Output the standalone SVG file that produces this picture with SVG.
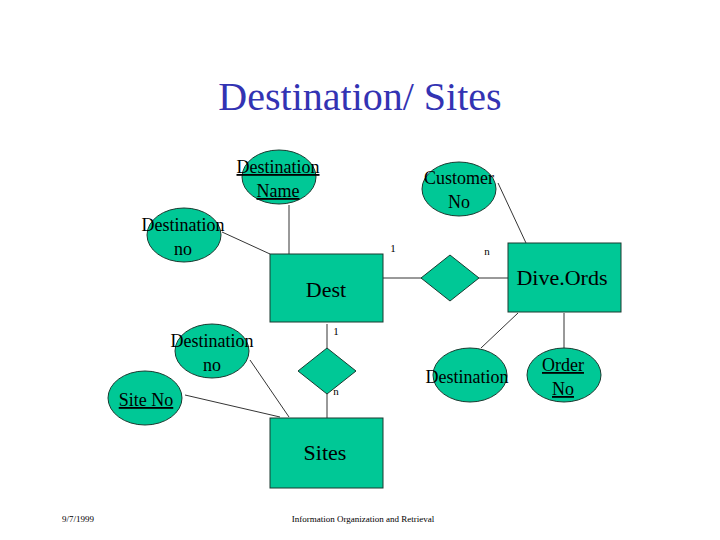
<svg xmlns="http://www.w3.org/2000/svg" width="720" height="540" viewBox="0 0 720 540">
<style>
.n{fill:#00c896;stroke:#1a3a30;stroke-width:1}
.l{stroke:#000;stroke-width:0.8;fill:none}
text{font-family:"Liberation Serif",serif;fill:#000;text-anchor:middle}
.a{font-size:18px}
.e{font-size:22px}
.c{font-size:11px}
.u{text-decoration:underline}
</style>
<rect width="720" height="540" fill="#fff"/>
<text x="360" y="110" style="font-size:40px;fill:#3333b3">Destination/ Sites</text>
<g id="connectors">
<line class="l" x1="289" y1="205" x2="289" y2="254"/>
<line class="l" x1="222" y1="232" x2="270" y2="254"/>
<line class="l" x1="498" y1="183" x2="526" y2="243"/>
<line class="l" x1="383" y1="278" x2="422" y2="278"/>
<line class="l" x1="479" y1="278" x2="508" y2="278"/>
<line class="l" x1="518" y1="313" x2="481" y2="348"/>
<line class="l" x1="564" y1="313" x2="564" y2="348"/>
<line class="l" x1="327" y1="324" x2="327" y2="348"/>
<line class="l" x1="327" y1="394" x2="327" y2="418"/>
<line class="l" x1="250" y1="360" x2="289" y2="417"/>
<line class="l" x1="185" y1="395" x2="280" y2="417"/>
<text class="c" x="393" y="252">1</text>
<text class="c" x="487" y="255">n</text>
<text class="c" x="336" y="335">1</text>
<text class="c" x="336" y="395">n</text>
</g>
<g id="dest"><rect class="n" x="270" y="254" width="113" height="68"/><text class="e" x="326" y="297">Dest</text></g>
<g id="sites"><rect class="n" x="270" y="418" width="113" height="70"/><text class="e" x="325" y="460">Sites</text></g>
<g id="diveords"><rect class="n" x="508" y="243" width="113" height="69"/><text class="e" x="562" y="285">Dive.Ords</text></g>
<g id="rel1"><polygon class="n" points="450,255 479,278 450,301 421,278"/></g>
<g id="rel2"><polygon class="n" points="327,348 356,371 327,394 298,371"/></g>
<g id="destname"><ellipse class="n" cx="279" cy="177" rx="37" ry="27"/><text class="a u" x="278" y="173">Destination</text><text class="a u" x="278" y="197">Name</text></g>
<g id="custno"><ellipse class="n" cx="459" cy="189" rx="37" ry="27"/><text class="a" x="459" y="184">Customer</text><text class="a" x="459" y="208">No</text></g>
<g id="destno1"><ellipse class="n" cx="184" cy="235" rx="37" ry="27"/><text class="a" x="183" y="231">Destination</text><text class="a" x="183" y="255">no</text></g>
<g id="destno2"><ellipse class="n" cx="212" cy="351" rx="37" ry="27"/><text class="a" x="212" y="347">Destination</text><text class="a" x="212" y="371">no</text></g>
<g id="siteno"><ellipse class="n" cx="145" cy="398" rx="37" ry="27"/><text class="a u" x="146" y="406">Site No</text></g>
<g id="destination"><ellipse class="n" cx="470" cy="375" rx="37" ry="27"/><text class="a" x="467" y="383">Destination</text></g>
<g id="orderno"><ellipse class="n" cx="564" cy="375" rx="37" ry="27"/><text class="a u" x="563" y="371">Order</text><text class="a u" x="563" y="395">No</text></g>
<text x="78" y="522" style="font-size:9px">9/7/1999</text>
<text x="363" y="522" style="font-size:9px">Information Organization and Retrieval</text>
</svg>
